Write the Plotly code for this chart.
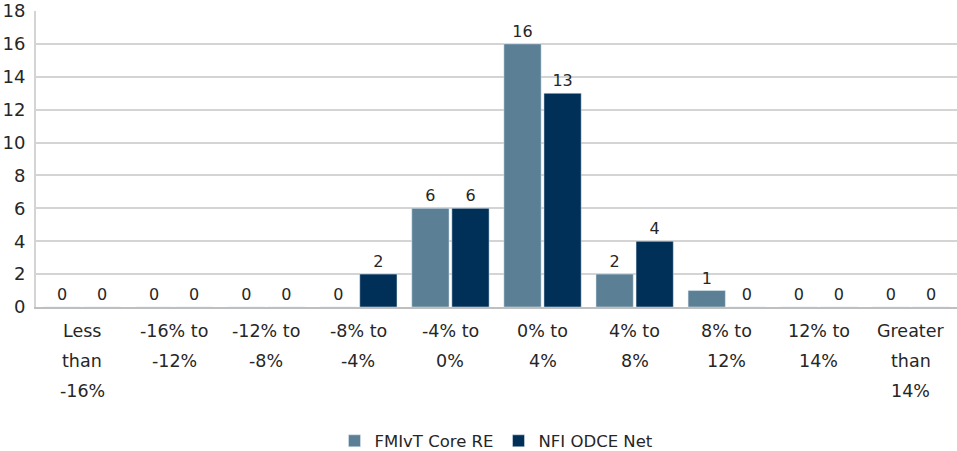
import plotly.graph_objects as go

categories = ["Less than -16%", "-16% to -12%", "-12% to -8%", "-8% to -4%", "-4% to 0%",
              "0% to 4%", "4% to 8%", "8% to 12%", "12% to 14%", "Greater than 14%"]
label_lines = [["Less", "than", "-16%"], ["-16% to", "-12%"], ["-12% to", "-8%"], ["-8% to", "-4%"],
               ["-4% to", "0%"], ["0% to", "4%"], ["4% to", "8%"], ["8% to", "12%"],
               ["12% to", "14%"], ["Greater", "than", "14%"]]
fmivt = [0, 0, 0, 0, 6, 16, 2, 1, 0, 0]
nfi = [0, 0, 0, 2, 6, 13, 4, 0, 0, 0]
y_ticks = list(range(0, 19, 2))

FONT = "DejaVu Sans"
TXT = "#262626"
fig = go.Figure()
fig.add_trace(go.Bar(x=categories, y=fmivt, name="FMIvT Core RE", marker_color="#5B7F94",
                     text=fmivt, textposition="outside", cliponaxis=False,
                     textfont=dict(size=16, color=TXT, family=FONT)))
fig.add_trace(go.Bar(x=categories, y=nfi, name="NFI ODCE Net", marker_color="#003057",
                     text=nfi, textposition="outside", cliponaxis=False,
                     textfont=dict(size=16, color=TXT, family=FONT)))

for cat, lines in zip(categories, label_lines):
    for i, ln in enumerate(lines):
        fig.add_annotation(x=cat, y=0, xref="x", yref="paper", text=ln, showarrow=False,
                           yanchor="top", yshift=-12 - 30 * i,
                           font=dict(size=17.5, color=TXT, family=FONT))

fig.update_layout(
    width=957, height=451, barmode="group", bargap=0.13, bargroupgap=0.07,
    margin=dict(l=36, r=0, t=11, b=144),
    plot_bgcolor="white", paper_bgcolor="white",
    font=dict(family=FONT, color=TXT),
    legend=dict(orientation="h", x=0.5, xanchor="center", yref="container", y=0.022,
                yanchor="middle", font=dict(size=16.5, family=FONT, color=TXT), itemwidth=30),
    xaxis=dict(showticklabels=False, showline=True, linecolor="#BFBFBF", linewidth=2, ticks="",
               automargin=False),
    yaxis=dict(range=[0, 18], tickvals=y_ticks, showgrid=True, gridcolor="#D4D4D4", gridwidth=2,
               showline=True, linecolor="#D4D4D4", linewidth=2, zeroline=False, automargin=False,
               ticklabelstandoff=5,
               tickfont=dict(size=18, family=FONT, color=TXT), ticks="", ticklen=0),
)
fig.write_html("out.html", config={"displayModeBar": False},
               post_script="document.body.style.margin='0';document.body.style.overflow='hidden';")
